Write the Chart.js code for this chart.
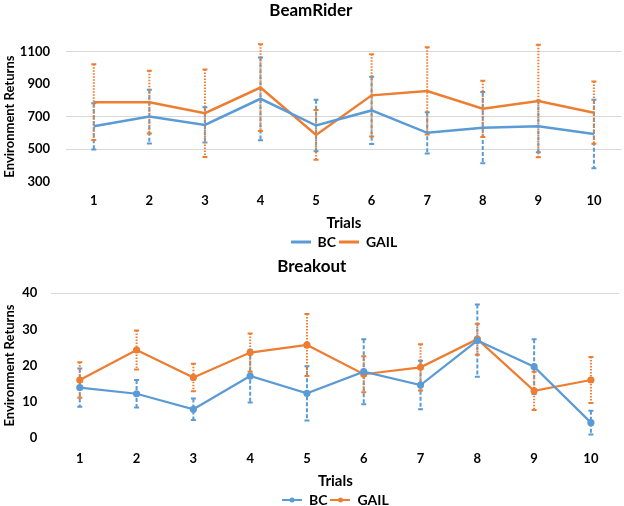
<!DOCTYPE html>
<html>
<head>
<meta charset="utf-8">
<script src="https://cdn.jsdelivr.net/npm/chart.js@4.4.0/dist/chart.umd.min.js"></script>
<style>
  html, body { margin: 0; padding: 0; background: #fff; overflow: hidden; width: 624px; height: 506px; }
  #c1 { position: absolute; left: 0; top: 0; }
  #c2 { position: absolute; left: 0; top: 240px; }
</style>
</head>
<body>
<canvas id="c1" width="624" height="259"></canvas>
<canvas id="c2" width="624" height="277"></canvas>
<script>
// ---- Data ----
const trials = ['1','2','3','4','5','6','7','8','9','10'];

const beamBC      = [640, 700, 649, 810, 645, 738, 600, 632, 640, 593];
const beamBCErr   = [143, 166, 109, 255, 159, 207, 127, 220, 160, 211];
const beamGAIL    = [789, 789, 721, 879, 587, 831, 858, 748, 796, 724];
const beamGAILErr = [233, 193, 270, 267, 153, 254, 269, 173, 347, 192];
const beamTicks   = [300, 500, 700, 900, 1100];
const beamGrid    = [500, 700, 1100];

const brkBC       = [13.9, 12.2, 7.9, 17.1, 12.3, 18.3, 14.6, 26.9, 19.7, 4.2];
const brkBCErr    = [5.3, 3.8, 3.0, 7.3, 7.5, 9.0, 6.7, 10.0, 7.6, 3.3];
const brkGAIL     = [16.0, 24.3, 16.7, 23.6, 25.7, 17.6, 19.5, 27.3, 13.0, 16.0];
const brkGAILErr  = [4.9, 5.4, 3.8, 5.3, 8.6, 5.0, 6.4, 4.3, 5.3, 6.4];
const brkTicks    = [0, 10, 20, 30, 40];
const brkGrid     = [40];

// ---- Styles ----
const BLUE = '#5B9BD5';
const ORANGE = '#ED7D31';
const FONT = 'Lato, "Open Sans", sans-serif';

function legendImg(color, withDot) {
  const c = document.createElement('canvas');
  c.width = 20; c.height = 8;
  const x = c.getContext('2d');
  x.strokeStyle = color; x.lineWidth = withDot ? 2 : 3;
  x.beginPath(); x.moveTo(0, 4); x.lineTo(20, 4); x.stroke();
  if (withDot) { x.fillStyle = color; x.beginPath(); x.arc(10, 4, 2.5, 0, Math.PI * 2); x.fill(); }
  return c;
}

const errorBarPlugin = {
  id: 'errorBars',
  beforeDatasetsDraw(chart) {
    const ctx = chart.ctx;
    const y = chart.scales.y;
    chart.data.datasets.forEach((ds, di) => {
      const meta = chart.getDatasetMeta(di);
      if (!ds.errors) return;
      ctx.save();
      ctx.strokeStyle = ds.borderColor;
      ctx.lineWidth = 2;
      ds.errors.forEach((e, i) => {
        const px = meta.data[i].x;
        const yTop = y.getPixelForValue(ds.data[i] + e);
        const yBot = y.getPixelForValue(ds.data[i] - e);
        ctx.setLineDash(ds.errDash);
        ctx.beginPath(); ctx.moveTo(px, yTop); ctx.lineTo(px, yBot); ctx.stroke();
        ctx.setLineDash([]);
        ctx.beginPath();
        ctx.moveTo(px - 2.5, yTop); ctx.lineTo(px + 2.5, yTop);
        ctx.moveTo(px - 2.5, yBot); ctx.lineTo(px + 2.5, yBot);
        ctx.stroke();
      });
      ctx.restore();
    });
  }
};

function makeChart(id, cfg) {
  const imgs = [legendImg(BLUE, cfg.markers), legendImg(ORANGE, cfg.markers)];
  return new Chart(document.getElementById(id), {
    type: 'line',
    data: {
      labels: trials,
      datasets: [
        { label: 'BC', data: cfg.bc, errors: cfg.bcErr, errDash: [4, 2],
          borderColor: BLUE, backgroundColor: BLUE, borderWidth: cfg.lw,
          pointRadius: cfg.markers ? 2.5 : 0, pointHoverRadius: 0, tension: 0 },
        { label: 'GAIL', data: cfg.gail, errors: cfg.gailErr, errDash: [1.5, 1.5],
          borderColor: ORANGE, backgroundColor: ORANGE, borderWidth: cfg.lw,
          pointRadius: cfg.markers ? 2.5 : 0, pointHoverRadius: 0, tension: 0 }
      ]
    },
    options: {
      responsive: false,
      animation: false,
      devicePixelRatio: 1,
      layout: { padding: { left: 0, right: cfg.padRight, top: 0, bottom: 0 } },
      plugins: {
        title: {
          display: true, text: cfg.title, color: '#000',
          font: { family: FONT, size: 17, weight: 'bold' },
          padding: { top: cfg.titleTop, bottom: cfg.titleBottom }
        },
        legend: {
          position: 'bottom', fullSize: false,
          labels: {
            usePointStyle: true, pointStyleWidth: 20, padding: 3, color: '#000',
            font: { family: FONT, size: 14, weight: 'bold' },
            generateLabels(chart) {
              const items = Chart.defaults.plugins.legend.labels.generateLabels(chart);
              items.forEach((it, i) => { it.pointStyle = imgs[i]; });
              return items;
            }
          }
        },
        tooltip: { enabled: false }
      },
      scales: {
        x: {
          type: 'category', offset: true,
          grid: { display: false, drawTicks: false },
          border: { display: false },
          ticks: { color: '#000', padding: cfg.xTickPad, font: { family: FONT, size: 13, weight: 'bold' } },
          title: { display: true, text: 'Trials', color: '#000',
                   font: { family: FONT, size: 15, weight: 'bold' }, padding: { top: 0, bottom: cfg.xTitleBottom } },
          afterFit(s) { s.height = cfg.xHeight; }
        },
        y: {
          min: cfg.ticks[0], max: cfg.ticks[cfg.ticks.length - 1],
          afterBuildTicks(s) { s.ticks = cfg.ticks.map(v => ({ value: v })); },
          grid: {
            drawTicks: false, lineWidth: 1,
            color: c => (c.tick && cfg.grid.includes(c.tick.value)) ? '#d9d9d9' : 'rgba(0,0,0,0)'
          },
          border: { display: false },
          ticks: { color: '#000', padding: cfg.yTickPad, font: { family: FONT, size: 13, weight: 'bold' },
                   callback: v => String(v) },
          title: { display: true, text: 'Environment Returns', color: '#000',
                   font: { family: FONT, size: 13, weight: 'bold' }, padding: { top: 2, bottom: 0 } },
          afterFit(s) { s.width = cfg.yWidth; }
        }
      }
    },
    plugins: [errorBarPlugin]
  });
}

makeChart('c1', {
  title: 'BeamRider', bc: beamBC, bcErr: beamBCErr, gail: beamGAIL, gailErr: beamGAILErr,
  ticks: beamTicks, grid: beamGrid, markers: false, lw: 2.5,
  titleTop: 0, titleBottom: 31.3, xHeight: 50.5, xTickPad: 12, xTitleBottom: 0,
  yWidth: 66, yTickPad: 16, padRight: 2.3
});

makeChart('c2', {
  title: 'Breakout', bc: brkBC, bcErr: brkBCErr, gail: brkGAIL, gailErr: brkGAILErr,
  ticks: brkTicks, grid: brkGrid, markers: true, lw: 2.2,
  titleTop: 16.5, titleBottom: 16.4, xHeight: 52.2, xTickPad: 13, xTitleBottom: 0,
  yWidth: 51.4, yTickPad: 14, padRight: 0.4
});
</script>
</body>
</html>
